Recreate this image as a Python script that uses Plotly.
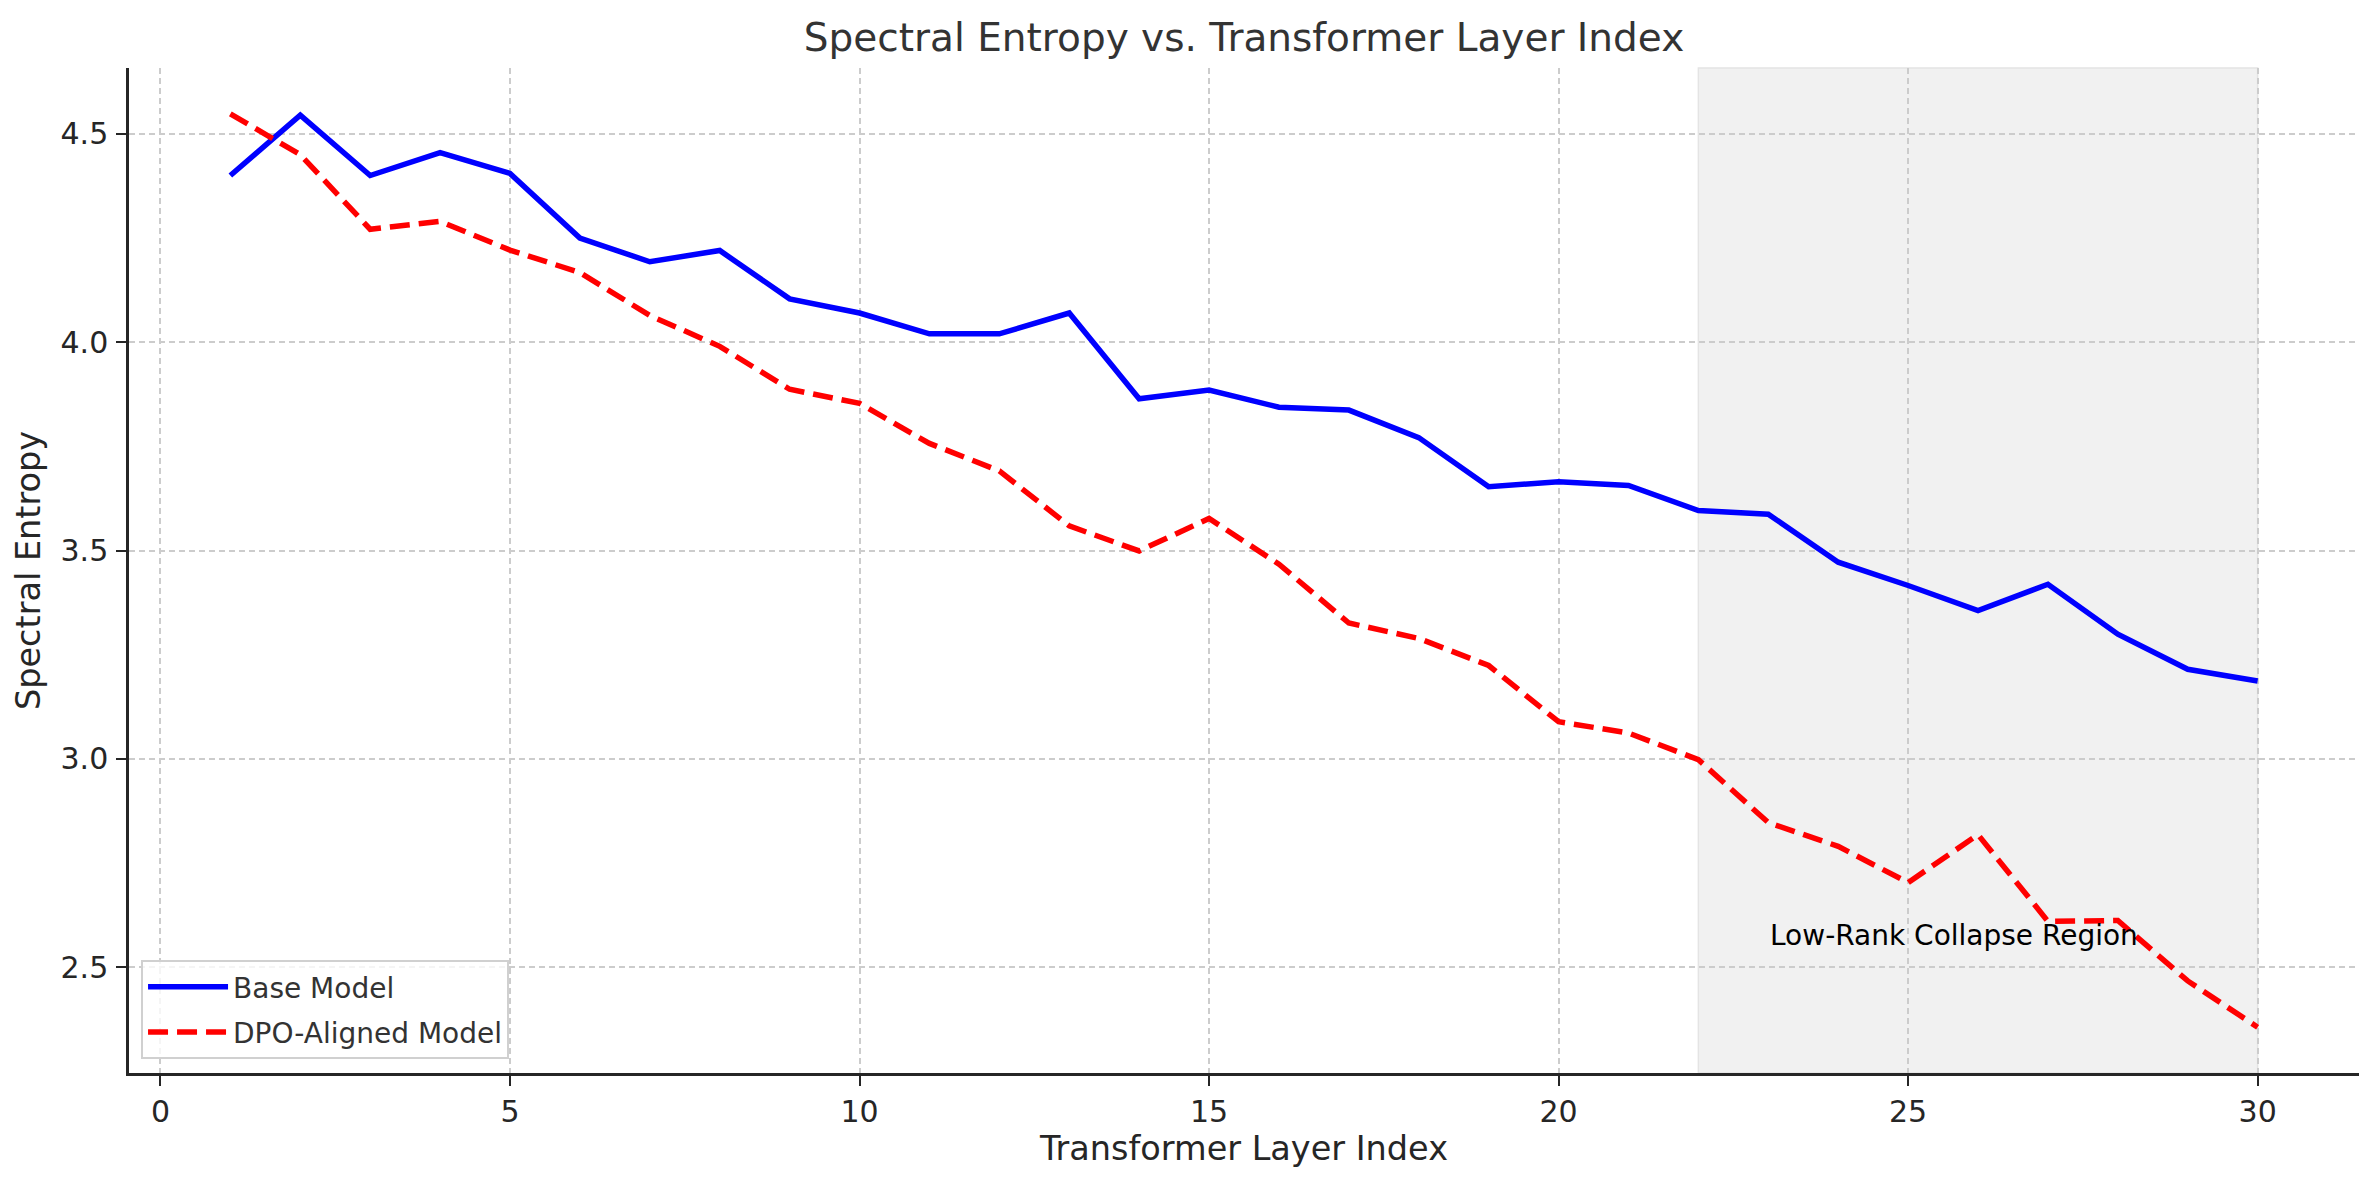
import plotly.graph_objects as go

layers = list(range(1, 31))
base_model = [4.40, 4.545, 4.40, 4.455, 4.405, 4.25, 4.193, 4.22, 4.104, 4.07,
              4.02, 4.02, 4.07, 3.864, 3.885, 3.844, 3.837, 3.771, 3.653, 3.665,
              3.656, 3.596, 3.587, 3.472, 3.416, 3.356, 3.419, 3.299, 3.215, 3.187]
dpo_model = [4.548, 4.45, 4.271, 4.29, 4.221, 4.167, 4.064, 3.99, 3.887, 3.853,
             3.757, 3.691, 3.559, 3.499, 3.577, 3.467, 3.326, 3.289, 3.224, 3.089,
             3.062, 2.998, 2.847, 2.790, 2.703, 2.818, 2.610, 2.612, 2.467, 2.356]
series_names = ["Base Model", "DPO-Aligned Model"]
collapse_start, collapse_end = 22, 30
annotation_text = "Low-Rank Collapse Region"
x_ticks = [0, 5, 10, 15, 20, 25, 30]
y_ticks = [2.5, 3.0, 3.5, 4.0, 4.5]

FONT = "DejaVu Sans"
W, H = 2363, 1164
fig = go.Figure()

fig.add_trace(go.Scatter(x=layers, y=base_model, mode="lines", name=series_names[0],
                         legendgroup="g1",
                         line=dict(color="#0000ff", width=5.5)))
fig.add_trace(go.Scatter(x=layers, y=dpo_model, mode="lines", name=series_names[1],
                         legendgroup="g2",
                         line=dict(color="#ff0000", width=5.5, dash="20px,9px")))

fig.add_shape(type="rect", xref="x", yref="paper", x0=collapse_start, x1=collapse_end,
              y0=0, y1=1, fillcolor="#f1f1f1", line=dict(color="#e4e4e4", width=1.5),
              layer="below")

fig.add_annotation(x=collapse_start + 1, y=2.577, xref="x", yref="y", text=annotation_text,
                   showarrow=False, xanchor="left", yanchor="middle",
                   font=dict(family=FONT, size=28, color="#000000"))

fig.update_layout(
    width=W, height=H,
    paper_bgcolor="white", plot_bgcolor="white",
    margin=dict(l=121, r=12, t=60, b=99),
    title=dict(text="Spectral Entropy vs. Transformer Layer Index", x=0.5, xref="paper",
               xanchor="center", y=1 - 29 / H, yanchor="middle",
               font=dict(family=FONT, size=39, color="#333333")),
    font=dict(family=FONT, color="#333333"),
    legend=dict(x=0.0054, y=0.014, xanchor="left", yanchor="bottom",
                bgcolor="rgba(255,255,255,0.8)", bordercolor="#d0d0d0", borderwidth=2,
                font=dict(family=FONT, size=28, color="#333333"),
                tracegroupgap=6, itemwidth=80),
    showlegend=True,
)

fig.update_xaxes(
    range=[-0.45, 31.45], tickvals=x_ticks, ticktext=[str(v) for v in x_ticks],
    showline=True, linecolor="#262626", linewidth=2.5, mirror=False,
    ticks="outside", ticklen=10, tickwidth=2, tickcolor="#262626",
    tickfont=dict(family=FONT, size=30, color="#262626"),
    showgrid=True, gridcolor="#cccccc", gridwidth=1.5, griddash="6px,4px",
    zeroline=False, automargin=False,
    title=dict(text="Transformer Layer Index", standoff=1,
               font=dict(family=FONT, size=33.5, color="#262626")),
)
fig.update_yaxes(
    range=[2.246, 4.658], tickvals=y_ticks, ticktext=[f"{v:.1f}" for v in y_ticks],
    showline=True, linecolor="#262626", linewidth=2.5, mirror=False,
    ticks="outside", ticklen=10, tickwidth=2, tickcolor="#262626",
    tickfont=dict(family=FONT, size=30, color="#262626"),
    ticklabelstandoff=2,
    showgrid=True, gridcolor="#cccccc", gridwidth=1.5, griddash="6px,4px",
    zeroline=False, automargin=False,
    title=dict(text="Spectral Entropy", standoff=10,
               font=dict(family=FONT, size=33.5, color="#262626")),
)

fig.write_html("out.html")
